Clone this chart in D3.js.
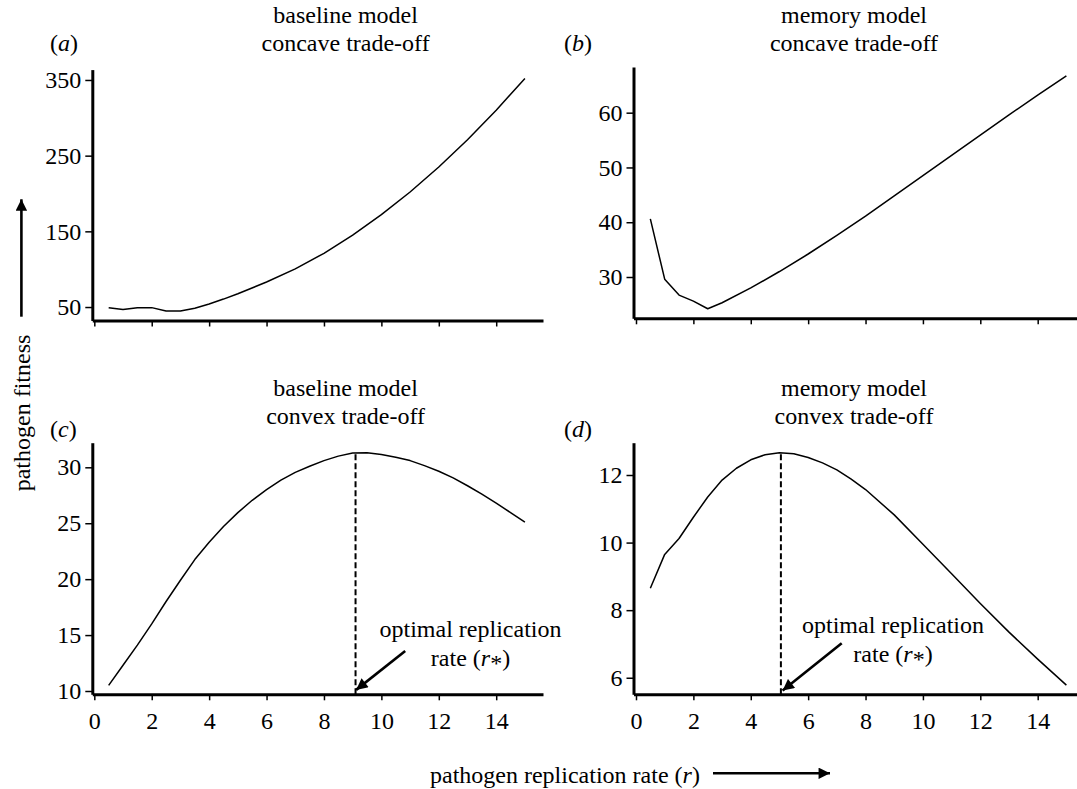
<!DOCTYPE html>
<html><head><meta charset="utf-8">
<script src="https://cdn.jsdelivr.net/npm/d3@7"></script>
<style>
html,body{margin:0;padding:0;background:#fff;}
svg text{font-family:"Liberation Serif","Times New Roman",serif;fill:#000;}
</style></head>
<body><svg id="c" width="1077" height="789"></svg>
<script>
// ---- data ----
const xA = [0.5,1,1.5,2,2.5,3,3.5,4,4.5,5,6,7,8,9,10,11,12,13,14,15];
const yA = [49,46.6,49.2,49.2,44.7,44.7,48.5,54,60.5,67.5,83,100.5,121,145,172,202,235,271,310,352];

const xB = [0.5,1,1.5,2,2.5,3,4,5,6,7,8,9,10,11,12,13,14,15];
const yB = [40.6,29.6,26.7,25.6,24.2,25.3,28.0,31.0,34.2,37.6,41.1,44.8,48.5,52.2,55.9,59.6,63.2,66.7];

const xC = [0.5,1,1.5,2,2.5,3,3.5,4,4.5,5,5.5,6,6.5,7,7.5,8,8.5,9,9.5,10,10.5,11,11.5,12,12.5,13,13.5,14,14.5,15];
const yC = [10.5,12.3,14.1,16.0,18.0,19.9,21.75,23.3,24.7,25.95,27.05,28.0,28.85,29.55,30.1,30.6,31.0,31.27,31.3,31.15,30.9,30.6,30.15,29.65,29.05,28.35,27.6,26.8,25.95,25.1];

const xD = [0.5,1,1.5,2,2.5,3,3.5,4,4.5,5,5.5,6,6.5,7,7.5,8,9,10,11,12,13,14,15];
const yD = [8.65,9.65,10.12,10.75,11.35,11.85,12.2,12.45,12.6,12.66,12.63,12.52,12.36,12.15,11.88,11.57,10.82,9.95,9.08,8.2,7.35,6.55,5.78];

const xTicks = [0,2,4,6,8,10,12,14];
const yTicksA = [50,150,250,350];
const yTicksB = [30,40,50,60];
const yTicksC = [10,15,20,25,30];
const yTicksD = [6,8,10,12];

// optimum (r*, peak fitness) and annotation arrow (from, to) in data units
const optC = [9.1, 31.3];
const optD = [5.05, 12.66];
const arrowC = [[10.83, 13.57],[9.12, 10.1]];
const arrowD = [[7.17, 7.02],[5.11, 5.62]];

const titlesTop = ["baseline model","memory model"];
const titlesBottom = ["baseline model","memory model"];

// ---- drawing ----
const svg = d3.select("#c");
const FS = 24;

svg.append("defs").append("marker")
  .attr("id","ah").attr("viewBox","0 0 10 10").attr("refX",10).attr("refY",5)
  .attr("markerWidth",5).attr("markerHeight",4.4).attr("orient","auto")
  .attr("markerUnits","strokeWidth")
  .append("path").attr("d","M0,0 L10,5 L0,10 Z").attr("fill","#000");

function panel(cfg){
  const g = svg.append("g");
  const x = d3.scaleLinear().domain(cfg.xd).range(cfg.xr);
  const y = d3.scaleLinear().domain(cfg.yd).range(cfg.yr);

  const xa = g.append("g").attr("transform",`translate(0,${cfg.yr[0]})`)
    .call(d3.axisBottom(x).tickValues(xTicks).tickSizeOuter(0).tickSizeInner(6)
      .tickFormat(cfg.xLabels ? d3.format("d") : ""));
  xa.select(".domain").attr("stroke-width",3);
  xa.selectAll(".tick line").attr("stroke-width",1.5);
  xa.selectAll(".tick text").attr("dy",null).attr("y",35).style("font-size",FS+"px")
    .style("font-family","Liberation Serif");

  const ya = g.append("g").attr("transform",`translate(${cfg.xr[0]},0)`)
    .call(d3.axisLeft(y).tickValues(cfg.yt).tickSizeOuter(0).tickSizeInner(7).tickPadding(4));
  ya.select(".domain").attr("stroke-width",3);
  ya.selectAll(".tick line").attr("stroke-width",1.5);
  ya.selectAll(".tick text").style("font-size",FS+"px").style("font-family","Liberation Serif");

  const pts = cfg.xs.map((v,i)=>[v,cfg.ys[i]]);
  g.append("path").datum(pts)
    .attr("d", d3.line().x(d=>x(d[0])).y(d=>y(d[1])).curve(d3.curveLinear))
    .attr("fill","none").attr("stroke","#000").attr("stroke-width",1.5)
    .attr("stroke-linejoin","round");

  // titles
  g.append("text").attr("x",cfg.tx).attr("y",cfg.ty1).attr("text-anchor","middle")
    .style("font-size",FS+"px").text(cfg.t1);
  g.append("text").attr("x",cfg.tx).attr("y",cfg.ty2).attr("text-anchor","middle")
    .style("font-size",FS+"px").text(cfg.t2);
  const lab = g.append("text").attr("x",cfg.lx).attr("y",cfg.ly).style("font-size",FS+"px");
  lab.append("tspan").text("(");
  lab.append("tspan").style("font-style","italic").text(cfg.letter);
  lab.append("tspan").text(")");

  if (cfg.opt){
    g.append("line").attr("x1",x(cfg.opt[0])).attr("x2",x(cfg.opt[0]))
      .attr("y1",cfg.yr[0]).attr("y2",y(cfg.opt[1]))
      .attr("stroke","#000").attr("stroke-width",2).attr("stroke-dasharray","6,3");
    g.append("line").attr("x1",x(cfg.arrow[0][0])).attr("y1",y(cfg.arrow[0][1]))
      .attr("x2",x(cfg.arrow[1][0])).attr("y2",y(cfg.arrow[1][1]))
      .attr("stroke","#000").attr("stroke-width",2.6).attr("marker-end","url(#ah)");
    g.append("text").attr("x",cfg.ax).attr("y",cfg.ay1).attr("text-anchor","middle")
      .style("font-size",FS+"px").text("optimal replication");
    const t = g.append("text").attr("x",cfg.ax).attr("y",cfg.ay2).attr("text-anchor","middle")
      .style("font-size",FS+"px");
    t.append("tspan").text("rate (");
    t.append("tspan").style("font-style","italic").text("r");
    t.append("tspan").attr("dy",5).text("*");
    t.append("tspan").attr("dy",-5).text(")");
  }
}

panel({xd:[-0.07,15.63], xr:[92.3,543], yd:[32.2,363.7], yr:[320.5,69.6], yt:yTicksA,
  xs:xA, ys:yA, xLabels:false, tx:345.6, ty1:23, ty2:51, t1:titlesTop[0], t2:"concave trade-off",
  lx:50, ly:51, letter:"a"});
panel({xd:[-0.087,15.37], xr:[633.5,1077], yd:[22.46,68.34], yr:[318.3,67], yt:yTicksB,
  xs:xB, ys:yB, xLabels:false, tx:854, ty1:23, ty2:51, t1:titlesTop[1], t2:"concave trade-off",
  lx:564, ly:51, letter:"b"});
panel({xd:[-0.07,15.63], xr:[92.3,543], yd:[9.705,32.2], yr:[694.3,442.7], yt:yTicksC,
  xs:xC, ys:yC, xLabels:true, tx:345.6, ty1:395.7, ty2:424, t1:titlesBottom[0], t2:"convex trade-off",
  lx:50, ly:437, letter:"c", opt:optC, arrow:arrowC, ax:470.5, ay1:637, ay2:666});
panel({xd:[-0.087,15.37], xr:[633.5,1077], yd:[5.51,12.956], yr:[694.3,442.7], yt:yTicksD,
  xs:xD, ys:yD, xLabels:true, tx:854, ty1:395.7, ty2:424, t1:titlesBottom[1], t2:"convex trade-off",
  lx:564, ly:437, letter:"d", opt:optD, arrow:arrowD, ax:893, ay1:633, ay2:662});

// shared axis labels with arrows
svg.append("text").attr("transform","translate(30,413) rotate(-90)").attr("text-anchor","middle")
  .style("font-size",FS+"px").text("pathogen fitness");
svg.append("line").attr("x1",21.4).attr("x2",21.4).attr("y1",316.7).attr("y2",199.3)
  .attr("stroke","#000").attr("stroke-width",2.6).attr("marker-end","url(#ah)");

const xl = svg.append("text").attr("x",430).attr("y",783).style("font-size",FS+"px");
xl.append("tspan").text("pathogen replication rate (");
xl.append("tspan").style("font-style","italic").text("r");
xl.append("tspan").text(")");
svg.append("line").attr("x1",713).attr("x2",830).attr("y1",773.3).attr("y2",773.3)
  .attr("stroke","#000").attr("stroke-width",2.6).attr("marker-end","url(#ah)");
</script></body></html>
